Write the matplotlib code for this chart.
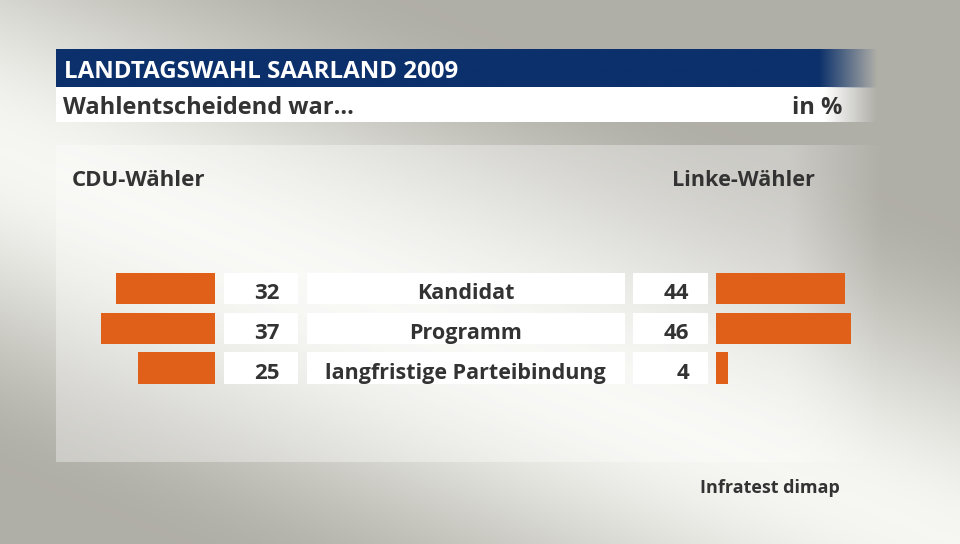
import numpy as np
import matplotlib
matplotlib.use('Agg')
import matplotlib.pyplot as plt
from matplotlib.patches import Rectangle
from matplotlib import font_manager

# data
categories = ['Kandidat', 'Programm', 'langfristige Parteibindung']
cdu_values = [32, 37, 25]
linke_values = [44, 46, 4]
title = 'LANDTAGSWAHL SAARLAND 2009'
subtitle = 'Wahlentscheidend war...'
unit = 'in %'
left_header = 'CDU-Wähler'
right_header = 'Linke-Wähler'
source = 'Infratest dimap'

NAVY = (0x0b / 255, 0x30 / 255, 0x6b / 255)
ORANGE = '#e06019'
TEXT = '#333333'


def pick_font(names):
    for n in names:
        try:
            font_manager.findfont(n, fallback_to_default=False)
            return n
        except Exception:
            pass
    return 'DejaVu Sans'


FONT = pick_font(['Open Sans', 'Noto Sans', 'DejaVu Sans'])
plt.rcParams['font.family'] = [FONT, 'DejaVu Sans']

W, H = 960, 544
fig = plt.figure(figsize=(W / 100, H / 100), dpi=100)
ax = fig.add_axes([0, 0, 1, 1])
ax.set_xlim(0, W)
ax.set_ylim(H, 0)
ax.axis('off')

# background: light diagonal band, darker towards upper right / lower left
yy, xx = np.mgrid[0:H, 0:W]
d = np.array([960.0, 394.0])
d /= np.linalg.norm(d)
dist = np.abs((xx - 0) * d[1] - (yy - 150) * d[0])
t = np.clip(dist / 300.0, 0, 1)
t = t * t * (3 - 2 * t)
light = np.array([0.965, 0.968, 0.95])
dark = np.array([0.69, 0.685, 0.655])
bg = light[None, None, :] * (1 - t[..., None]) + dark[None, None, :] * t[..., None]
ax.imshow(bg, extent=(0, W, H, 0), aspect='auto', zorder=0)


def fade_bar(x0, x1, fade_start, y0, y1, color, amax=1.0, z=2):
    n = 400
    xs = np.linspace(x0, x1, n)
    alpha = np.clip((x1 - xs) / (x1 - fade_start), 0, 1) * amax
    img = np.zeros((1, n, 4))
    img[0, :, :3] = color
    img[0, :, 3] = alpha
    ax.imshow(img, extent=(x0, x1, y1, y0), aspect='auto', zorder=z)


# light panel, fading out on the right
fade_bar(56, 885, 790, 145, 462, (1, 1, 1), amax=0.35, z=1)

fade_bar(56, 878, 820, 49, 88, NAVY)
fade_bar(56, 878, 826, 88, 122.5, (1, 1, 1))

ax.text(64, 77.5, title, color='white', fontsize=17.4, fontweight='bold',
        va='baseline', ha='left', zorder=3)
ax.text(63, 114.5, subtitle, color=TEXT, fontsize=17, fontweight='bold',
        va='baseline', ha='left', zorder=3)
ax.text(842, 114.5, unit, color=TEXT, fontsize=17, fontweight='bold',
        va='baseline', ha='right', zorder=3)
ax.text(72, 186, left_header, color=TEXT, fontsize=16, fontweight='bold',
        va='baseline', ha='left', zorder=3)
ax.text(815, 186, right_header, color=TEXT, fontsize=15.6, fontweight='bold',
        va='baseline', ha='right', zorder=3)
ax.text(840, 493, source, color=TEXT, fontsize=13, fontweight='bold',
        va='baseline', ha='right', zorder=3)

# rows
row_top = 268.8
pitch = 39.7
box_h = 31.3
for i, (cat, lv, rv) in enumerate(zip(categories, cdu_values, linke_values)):
    yc = row_top + pitch * (i + 0.5)
    y0 = yc - box_h / 2
    for bx0, bx1 in [(224, 298.3), (306.5, 624.5), (633.3, 708)]:
        ax.add_patch(Rectangle((bx0, y0), bx1 - bx0, box_h, facecolor='white',
                               edgecolor='none', zorder=2))
    ax.text(279.5, yc + 10.5, str(lv), color=TEXT, fontsize=16, fontweight='bold',
            ha='right', va='baseline', zorder=3)
    ax.text(465.5, yc + 10.5, cat, color=TEXT, fontsize=15.5, fontweight='bold',
            ha='center', va='baseline', zorder=3)
    ax.text(689.5, yc + 10.5, str(rv), color=TEXT, fontsize=16, fontweight='bold',
            ha='right', va='baseline', zorder=3)

# bar axes (pixel geometry -> figure fractions)
n = len(categories)
ax_bottom = (H - (row_top + pitch * n)) / H
ax_height = pitch * n / H
left_scale = 3.1    # px per percent
right_scale = 2.93

axl = fig.add_axes([40 / W, ax_bottom, 175.3 / W, ax_height])
axl.barh(range(n), cdu_values, height=box_h / pitch, color=ORANGE)
axl.set_xlim(175.3 / left_scale, 0)
axl.set_ylim(n - 0.5, -0.5)
axl.axis('off')

axr = fig.add_axes([716.3 / W, ax_bottom, 175 / W, ax_height])
axr.barh(range(n), linke_values, height=box_h / pitch, color=ORANGE)
axr.set_xlim(0, 175 / right_scale)
axr.set_ylim(n - 0.5, -0.5)
axr.axis('off')

fig.savefig('out.png', dpi=100)
